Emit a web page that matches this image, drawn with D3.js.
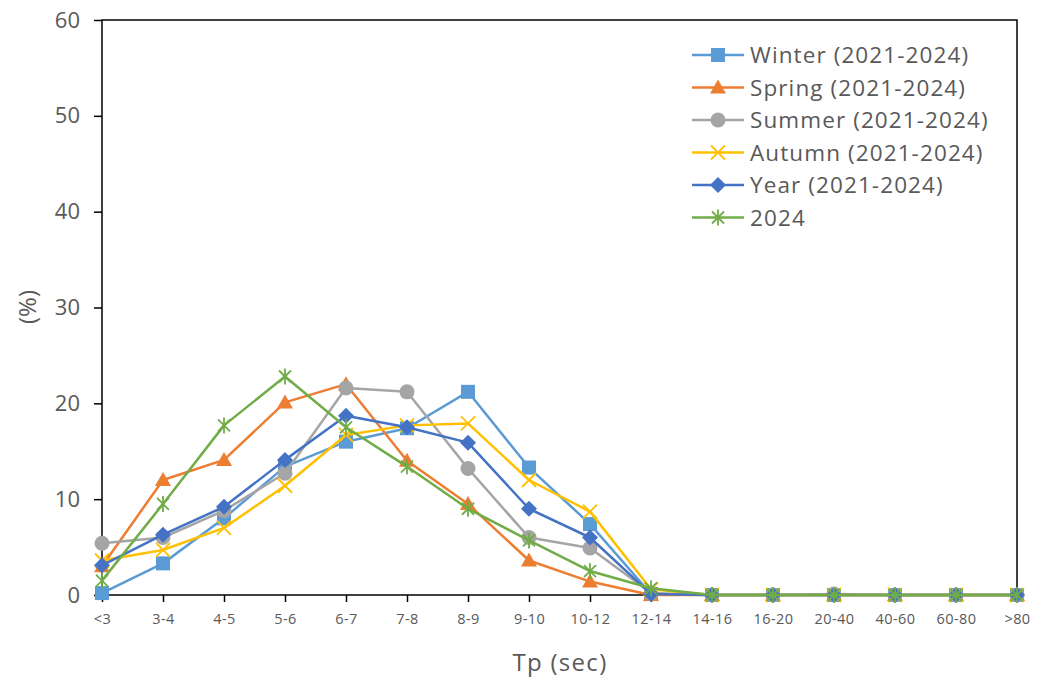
<!DOCTYPE html>
<meta charset="utf-8">
<style>
body{
	margin:0;
	background:#fff;
	font-family:"Open Sans",sans-serif;
}
text{fill:#595959;}
</style>
<script src="https://cdn.jsdelivr.net/npm/d3@7"></script>
<div id="chart"></div>
<script>

var categories = ["<3","3-4","4-5","5-6","6-7","7-8","8-9","9-10","10-12","12-14","14-16","16-20","20-40","40-60","60-80",">80"]
var yTicks = [0,10,20,30,40,50,60]

var winter = [0.2,3.3,8.0,13.4,16.0,17.4,21.2,13.3,7.4,0.1,0,0,0,0,0,0]
var spring = [3.0,12.0,14.1,20.1,22.0,14.0,9.5,3.6,1.4,0,0,0,0,0,0,0]
var summer = [5.4,6.0,8.8,12.7,21.6,21.2,13.2,6.0,4.9,0.2,0,0,0.1,0,0,0]
var autumn = [3.6,4.7,7.0,11.4,16.7,17.7,17.9,12.0,8.7,0.6,0,0,0,0,0,0]
var year = [3.1,6.3,9.2,14.1,18.7,17.5,15.9,9.0,6.0,0.1,0,0,0,0,0,0]
var y2024 = [1.5,9.5,17.7,22.8,17.5,13.4,9.0,5.7,2.5,0.7,0,0,0,0,0,0]

var seriesNames = ["Winter (2021-2024)","Spring (2021-2024)","Summer (2021-2024)","Autumn (2021-2024)","Year (2021-2024)","2024"]
var seriesColors = ["#5B9BD5","#ED7D31","#A5A5A5","#FFC000","#4472C4","#70AD47"]
var seriesMarkers = ["square","triangle","circle","x","diamond","asterisk"]
var seriesValues = [winter,spring,summer,autumn,year,y2024]

var W = 1037, H = 679
var margin = {left:102, right:20, top:20, bottom:84}

var svg = d3.select("#chart").append("svg").attr("width",W).attr("height",H)

var x = d3.scalePoint().domain(categories).range([margin.left, W-margin.right])
var y = d3.scaleLinear().domain([0,60]).range([H-margin.bottom, margin.top])

// plot box
svg.append("rect")
	.attr("x",margin.left).attr("y",margin.top)
	.attr("width",W-margin.right-margin.left).attr("height",H-margin.bottom-margin.top)
	.attr("fill","none").attr("stroke","#000").attr("stroke-width",1.5)

//y axis
var yAxis = d3.axisLeft(y).tickValues(yTicks).tickSize(8).tickPadding(14)
var gy = svg.append("g").attr("transform","translate("+margin.left+",0)").call(yAxis)
gy.select(".domain").remove()
gy.selectAll("line").attr("stroke","#000").attr("stroke-width",1.5)
gy.selectAll("text").attr("font-size",22).attr("font-family","Open Sans").style("fill","#595959")

//x axis
var xAxis = d3.axisBottom(x).tickSize(7).tickPadding(12)
var gx = svg.append("g").attr("transform","translate(0,"+(H-margin.bottom)+")").call(xAxis)
gx.select(".domain").remove()
gx.selectAll("line").attr("stroke","#000").attr("stroke-width",1.5)
gx.selectAll("text").attr("font-size",14.5).attr("font-family","Open Sans").style("fill","#595959")
	.attr("letter-spacing",0.4)

svg.append("text").attr("x",560).attr("y",671).attr("text-anchor","middle")
	.attr("font-size",24).attr("letter-spacing",1.3).text("Tp (sec)")
svg.append("text").attr("transform","translate(36,307) rotate(-90)").attr("text-anchor","middle")
	.attr("font-size",24).text("(%)")

function drawMarker(g, type, color, cx, cy){
	var s = 7
	if(type=="square"){
		g.append("rect").attr("x",cx-s).attr("y",cy-s).attr("width",2*s).attr("height",2*s).attr("fill",color)
	} else if(type=="triangle"){
		g.append("path").attr("d","M"+cx+","+(cy-8)+"L"+(cx+8)+","+(cy+6)+"L"+(cx-8)+","+(cy+6)+"Z").attr("fill",color)
	} else if(type=="circle"){
		g.append("circle").attr("cx",cx).attr("cy",cy).attr("r",7.5).attr("fill",color)
	} else if(type=="diamond"){
		g.append("path").attr("d","M"+cx+","+(cy-8)+"L"+(cx+8)+","+cy+"L"+cx+","+(cy+8)+"L"+(cx-8)+","+cy+"Z").attr("fill",color)
	} else if(type=="x"){
		g.append("path").attr("d","M"+(cx-7)+","+(cy-7)+"L"+(cx+7)+","+(cy+7)+"M"+(cx+7)+","+(cy-7)+"L"+(cx-7)+","+(cy+7))
			.attr("stroke",color).attr("stroke-width",1.8)
	} else if(type=="asterisk"){
		g.append("path").attr("d","M"+(cx-6)+","+(cy-6)+"L"+(cx+6)+","+(cy+6)+"M"+(cx+6)+","+(cy-6)+"L"+(cx-6)+","+(cy+6)+"M"+cx+","+(cy-8)+"L"+cx+","+(cy+8))
			.attr("stroke",color).attr("stroke-width",1.8)
	}
}

var line = d3.line().x(function(d,i){return x(categories[i])}).y(function(d){return y(d)})

seriesValues.forEach(function(vals, k){
	var g = svg.append("g")
	g.append("path").datum(vals).attr("d",line).attr("fill","none")
		.attr("stroke",seriesColors[k]).attr("stroke-width",2.5).attr("stroke-linejoin","round")
	vals.forEach(function(v,i){
		drawMarker(g, seriesMarkers[k], seriesColors[k], x(categories[i]), y(v))
	})
})

//legend
var leg = svg.append("g")
seriesNames.forEach(function(name,k){
	var ly = 55 + k*32.5
	leg.append("line").attr("x1",692).attr("x2",744).attr("y1",ly).attr("y2",ly)
		.attr("stroke",seriesColors[k]).attr("stroke-width",2.5)
	drawMarker(leg, seriesMarkers[k], seriesColors[k], 718, ly)
	leg.append("text").attr("x",750).attr("y",ly+8).attr("font-size",22.5)
		.attr("letter-spacing",1.1).text(name)
})

</script>
